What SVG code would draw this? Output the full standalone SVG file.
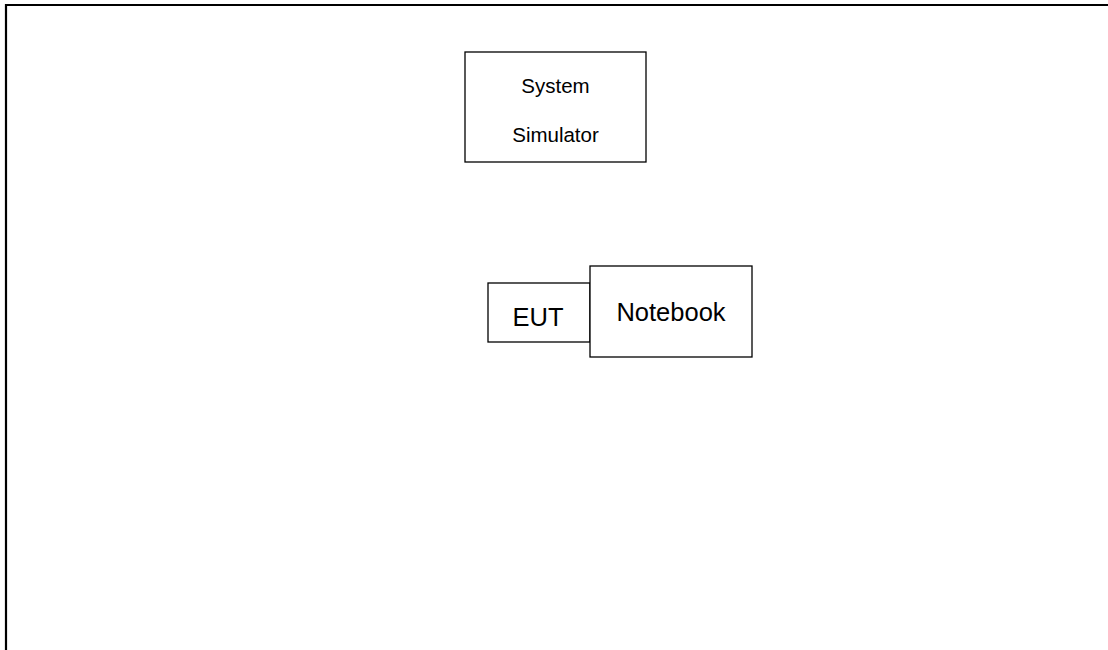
<svg xmlns="http://www.w3.org/2000/svg" width="1108" height="650" viewBox="0 0 1108 650">
  <style>
    .box { fill: #ffffff; stroke: #000000; stroke-width: 1.3; }
    .frame { fill: none; stroke: #000000; stroke-width: 2.2; }
    .lbl { font-family: "Liberation Sans", Arial, sans-serif; fill: #000000; text-anchor: middle; }
    .small { font-size: 20.5px; }
    .big { font-size: 25.5px; }
  </style>
  <rect x="0" y="0" width="1108" height="650" fill="#ffffff"/>
  <g id="frame">
    <path class="frame" d="M6,650 V5 H1108"/>
  </g>
  <g id="connectors"></g>
  <g id="system-simulator">
    <rect class="box" x="465" y="52" width="181" height="110"/>
    <text class="lbl small" x="555.5" y="93">System</text>
    <text class="lbl small" x="555.5" y="142">Simulator</text>
  </g>
  <g id="eut">
    <rect class="box" x="488" y="283" width="102" height="59"/>
    <text class="lbl big" x="538" y="326">EUT</text>
  </g>
  <g id="notebook">
    <rect class="box" x="590" y="266" width="162" height="91"/>
    <text class="lbl big" x="671" y="321">Notebook</text>
  </g>
</svg>
